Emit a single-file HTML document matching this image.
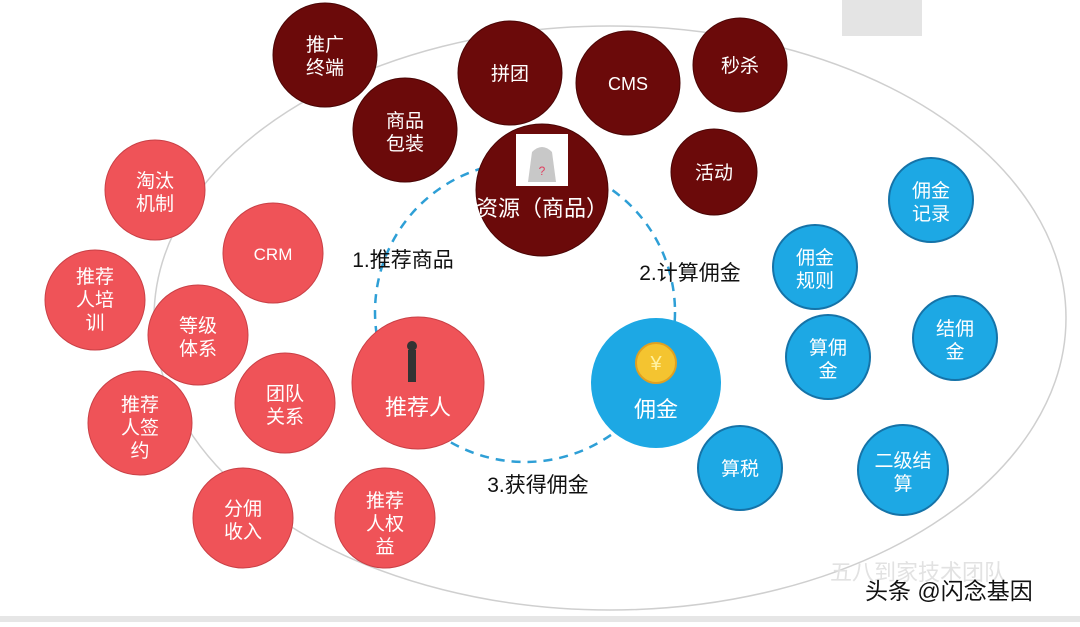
<!DOCTYPE html>
<html><head><meta charset="utf-8"><style>
body{margin:0;width:1080px;height:622px;overflow:hidden;background:#fff;font-family:"Liberation Sans","Noto Sans CJK SC",sans-serif}
</style></head><body>
<svg width="1080" height="622" xmlns="http://www.w3.org/2000/svg" font-family="Liberation Sans, Noto Sans CJK SC, sans-serif">
<rect x="842" y="0" width="80" height="36" fill="#e4e4e4"/>
<rect x="0" y="616" width="1080" height="6" fill="#e6e6e6"/>
<ellipse cx="610" cy="318" rx="456" ry="292" fill="none" stroke="#cfcfcf" stroke-width="1.5"/>
<circle cx="525" cy="312" r="150" fill="none" stroke="#2e9fd6" stroke-width="2.5" stroke-dasharray="9,7"/>
<g fill="#6b0a0a" stroke="#4a0505" stroke-width="1">
<circle cx="325" cy="55" r="52"/><circle cx="405" cy="130" r="52"/><circle cx="510" cy="73" r="52"/>
<circle cx="628" cy="83" r="52"/><circle cx="740" cy="65" r="47"/><circle cx="542" cy="190" r="66"/><circle cx="714" cy="172" r="43"/>
</g>
<g fill="#ef5358" stroke="#c94046" stroke-width="1">
<circle cx="155" cy="190" r="50"/><circle cx="273" cy="253" r="50"/><circle cx="95" cy="300" r="50"/>
<circle cx="198" cy="335" r="50"/><circle cx="285" cy="403" r="50"/><circle cx="140" cy="423" r="52"/>
<circle cx="418" cy="383" r="66"/><circle cx="243" cy="518" r="50"/><circle cx="385" cy="518" r="50"/>
</g>
<g fill="#1da8e4" stroke="#1573a8" stroke-width="2">
<circle cx="931" cy="200" r="42"/><circle cx="815" cy="267" r="42"/><circle cx="955" cy="338" r="42"/>
<circle cx="828" cy="357" r="42"/><circle cx="740" cy="468" r="42"/><circle cx="903" cy="470" r="45"/>
</g>
<circle cx="656" cy="383" r="65" fill="#1da8e4"/>
<rect x="516" y="134" width="52" height="52" fill="#fff"/>
<path d="M532 152 q10-10 20 0 l4 30 h-28z" fill="#c8c8c8"/>
<text x="542" y="175" font-size="12" fill="#e04060" text-anchor="middle">?</text>
<circle cx="656" cy="363" r="20" fill="#f4c430" stroke="#e0a020" stroke-width="2"/>
<text x="656" y="370" font-size="20" fill="#fff1a0" text-anchor="middle">¥</text>
<rect x="408" y="350" width="8" height="32" fill="#333"/><circle cx="412" cy="346" r="5" fill="#333"/>
<g fill="#fff" font-size="19" text-anchor="middle">
<text x="325" y="51">推广</text><text x="325" y="74">终端</text>
<text x="405" y="127">商品</text><text x="405" y="150">包装</text>
<text x="510" y="80">拼团</text><text x="628" y="90" font-size="18">CMS</text><text x="740" y="72">秒杀</text><text x="714" y="179">活动</text>
<text x="542" y="216" font-size="22">资源（商品）</text>
<text x="155" y="187">淘汰</text><text x="155" y="210">机制</text>
<text x="273" y="260" font-size="17">CRM</text>
<text x="95" y="283">推荐</text><text x="95" y="306">人培</text><text x="95" y="329">训</text>
<text x="198" y="332">等级</text><text x="198" y="355">体系</text>
<text x="285" y="400">团队</text><text x="285" y="423">关系</text>
<text x="140" y="411">推荐</text><text x="140" y="434">人签</text><text x="140" y="457">约</text>
<text x="418" y="415" font-size="22">推荐人</text>
<text x="243" y="515">分佣</text><text x="243" y="538">收入</text>
<text x="385" y="507">推荐</text><text x="385" y="530">人权</text><text x="385" y="553">益</text>
<text x="931" y="197">佣金</text><text x="931" y="220">记录</text>
<text x="815" y="264">佣金</text><text x="815" y="287">规则</text>
<text x="955" y="335">结佣</text><text x="955" y="358">金</text>
<text x="828" y="354">算佣</text><text x="828" y="377">金</text>
<text x="656" y="417" font-size="22">佣金</text>
<text x="740" y="475">算税</text>
<text x="903" y="467">二级结</text><text x="903" y="490">算</text>
</g>
<g fill="#111" font-size="21" text-anchor="middle">
<text x="403" y="267">1.推荐商品</text><text x="690" y="280">2.计算佣金</text><text x="538" y="492">3.获得佣金</text>
</g>
<text x="830" y="580" font-size="22" fill="#e2e2e2">五八到家技术团队</text>
<text x="865" y="599" font-size="23" fill="#111">头条 @闪念基因</text>
</svg>
</body></html>
